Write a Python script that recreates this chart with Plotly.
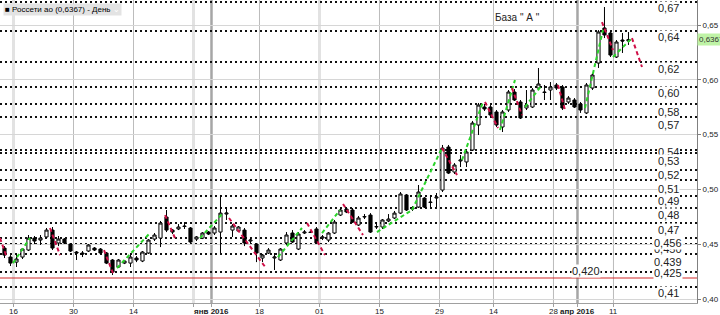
import plotly.graph_objects as go

# ---------------- data ----------------
dates = [
    "2015-11-12", "2015-11-13", "2015-11-16", "2015-11-17", "2015-11-18", "2015-11-19", "2015-11-20",
    "2015-11-23", "2015-11-24", "2015-11-25", "2015-11-26", "2015-11-27", "2015-11-30",
    "2015-12-01", "2015-12-02", "2015-12-03", "2015-12-04", "2015-12-07", "2015-12-08", "2015-12-09",
    "2015-12-10", "2015-12-11", "2015-12-14", "2015-12-15", "2015-12-16", "2015-12-17", "2015-12-18",
    "2015-12-21", "2015-12-22", "2015-12-23", "2015-12-24", "2015-12-25", "2015-12-28", "2015-12-29",
    "2015-12-30",
    "2016-01-04", "2016-01-05", "2016-01-06", "2016-01-11", "2016-01-12", "2016-01-13", "2016-01-14",
    "2016-01-15", "2016-01-18", "2016-01-19", "2016-01-20", "2016-01-21", "2016-01-22", "2016-01-25",
    "2016-01-26", "2016-01-27", "2016-01-28", "2016-01-29",
    "2016-02-01", "2016-02-02", "2016-02-03", "2016-02-04", "2016-02-05", "2016-02-08", "2016-02-09",
    "2016-02-10", "2016-02-11", "2016-02-12", "2016-02-15", "2016-02-16", "2016-02-17", "2016-02-18",
    "2016-02-19", "2016-02-20", "2016-02-22", "2016-02-24", "2016-02-25", "2016-02-26", "2016-02-29",
    "2016-03-01", "2016-03-02", "2016-03-03", "2016-03-04", "2016-03-07", "2016-03-09", "2016-03-10",
    "2016-03-11", "2016-03-14", "2016-03-15", "2016-03-16", "2016-03-17", "2016-03-18", "2016-03-21",
    "2016-03-22", "2016-03-23", "2016-03-24", "2016-03-25", "2016-03-28", "2016-03-29", "2016-03-30",
    "2016-03-31",
    "2016-04-01", "2016-04-04", "2016-04-05", "2016-04-06", "2016-04-07", "2016-04-08", "2016-04-11",
    "2016-04-12", "2016-04-13",
]

open_ = [0.4466, 0.4384, 0.4338, 0.4384, 0.4448, 0.4557, 0.4539, 0.4567, 0.4630, 0.4512,
         0.4548, 0.4503, 0.4430, 0.4421, 0.4439, 0.4466, 0.4457, 0.4421, 0.4357, 0.4293,
         0.4329, 0.4329, 0.4375, 0.4348, 0.4421, 0.4548, 0.4557, 0.4749, 0.4630, 0.4640,
         0.4667, 0.4649, 0.4548, 0.4557, 0.4612, 0.4603, 0.4612, 0.4776, 0.4630, 0.4621,
         0.4630, 0.4530, 0.4503, 0.4375, 0.4421, 0.4375, 0.4357, 0.4512, 0.4603, 0.4457,
         0.4603, 0.4612, 0.4640, 0.4557, 0.4539, 0.4603, 0.4767, 0.4822, 0.4813, 0.4676,
         0.4749, 0.4767, 0.4658, 0.4658, 0.4713, 0.4740, 0.4785, 0.4950, 0.4822, 0.4840,
         0.4922, 0.4886, 0.4922, 0.4995, 0.5387, 0.5159, 0.5260, 0.5251, 0.5360, 0.5588,
         0.5752, 0.5752, 0.5707, 0.5570, 0.5725, 0.5889, 0.5798, 0.5743, 0.5752, 0.5925,
         0.5889, 0.5907, 0.5953, 0.5935, 0.5798, 0.5816, 0.5780, 0.5698, 0.5925, 0.6153,
         0.6473, 0.6427, 0.6208, 0.6363, 0.6354]
high = [0.4484, 0.4402, 0.4412, 0.4466, 0.4585, 0.4576, 0.4585, 0.4649, 0.4658, 0.4576,
        0.4557, 0.4512, 0.4439, 0.4439, 0.4503, 0.4475, 0.4466, 0.4430, 0.4366, 0.4366,
        0.4357, 0.4412, 0.4393, 0.4439, 0.4548, 0.4603, 0.4713, 0.4813, 0.4640, 0.4685,
        0.4703, 0.4658, 0.4576, 0.4612, 0.4621, 0.4667, 0.4950, 0.4840, 0.4685, 0.4667,
        0.4649, 0.4557, 0.4512, 0.4412, 0.4466, 0.4421, 0.4466, 0.4612, 0.4630, 0.4612,
        0.4630, 0.4621, 0.4658, 0.4585, 0.4612, 0.4722, 0.4831, 0.4840, 0.4831, 0.4758,
        0.4776, 0.4785, 0.4703, 0.4731, 0.4776, 0.4804, 0.4977, 0.4959, 0.4849, 0.5041,
        0.4931, 0.4950, 0.4968, 0.5406, 0.5406, 0.5241, 0.5314, 0.5360, 0.5625, 0.5789,
        0.5780, 0.5770, 0.5725, 0.5725, 0.5907, 0.5916, 0.5816, 0.5907, 0.5925, 0.6108,
        0.5953, 0.5980, 0.5971, 0.5953, 0.5852, 0.5834, 0.5798, 0.5971, 0.6062, 0.6454,
        0.6664, 0.6445, 0.6363, 0.6427, 0.6436]
low = [0.4375, 0.4302, 0.4293, 0.4366, 0.4439, 0.4503, 0.4494, 0.4557, 0.4448, 0.4484,
       0.4503, 0.4430, 0.4357, 0.4384, 0.4430, 0.4439, 0.4412, 0.4320, 0.4220, 0.4284,
       0.4320, 0.4293, 0.4338, 0.4338, 0.4412, 0.4530, 0.4475, 0.4612, 0.4594, 0.4630,
       0.4640, 0.4512, 0.4530, 0.4548, 0.4585, 0.4585, 0.4421, 0.4722, 0.4567, 0.4612,
       0.4484, 0.4512, 0.4338, 0.4338, 0.4412, 0.4266, 0.4348, 0.4494, 0.4512, 0.4448,
       0.4594, 0.4603, 0.4503, 0.4539, 0.4521, 0.4594, 0.4758, 0.4785, 0.4694, 0.4667,
       0.4731, 0.4603, 0.4640, 0.4640, 0.4703, 0.4731, 0.4776, 0.4804, 0.4804, 0.4831,
       0.4831, 0.4840, 0.4840, 0.4977, 0.5141, 0.5141, 0.5205, 0.5205, 0.5351, 0.5497,
       0.5716, 0.5661, 0.5570, 0.5524, 0.5707, 0.5807, 0.5643, 0.5725, 0.5743, 0.5907,
       0.5816, 0.5816, 0.5907, 0.5725, 0.5780, 0.5743, 0.5698, 0.5688, 0.5907, 0.6108,
       0.6381, 0.6208, 0.6199, 0.6245, 0.6318]
close = [0.4402, 0.4329, 0.4366, 0.4457, 0.4557, 0.4530, 0.4557, 0.4630, 0.4466, 0.4548,
         0.4512, 0.4439, 0.4421, 0.4412, 0.4494, 0.4448, 0.4421, 0.4329, 0.4247, 0.4357,
         0.4348, 0.4384, 0.4357, 0.4430, 0.4539, 0.4585, 0.4694, 0.4630, 0.4612, 0.4658,
         0.4663, 0.4521, 0.4567, 0.4603, 0.4594, 0.4649, 0.4785, 0.4785, 0.4667, 0.4658,
         0.4512, 0.4539, 0.4421, 0.4402, 0.4448, 0.4384, 0.4457, 0.4585, 0.4521, 0.4594,
         0.4612, 0.4608, 0.4512, 0.4567, 0.4603, 0.4703, 0.4813, 0.4795, 0.4703, 0.4740,
         0.4753, 0.4612, 0.4662, 0.4722, 0.4731, 0.4785, 0.4959, 0.4813, 0.4831, 0.4977,
         0.4840, 0.4882, 0.4931, 0.5378, 0.5150, 0.5223, 0.5269, 0.5342, 0.5606, 0.5770,
         0.5734, 0.5679, 0.5588, 0.5707, 0.5889, 0.5816, 0.5652, 0.5770, 0.5907, 0.5962,
         0.5885, 0.5935, 0.5925, 0.5743, 0.5834, 0.5752, 0.5725, 0.5953, 0.6044, 0.6436,
         0.6409, 0.6226, 0.6345, 0.6354, 0.6367]

# zigzag indicator segments: (start bar position, start value, end bar position, end value)
zig_up = [(1.42, 0.4329, 4.25, 0.4557), (18.75, 0.4284, 24.25, 0.4603),
          (32.58, 0.4557, 36.42, 0.4785), (45.58, 0.4384, 49.58, 0.4649),
          (52.92, 0.4603, 55.92, 0.4813), (62.08, 0.4612, 67.92, 0.4813),
          (67.92, 0.4813, 72.92, 0.5378), (76.25, 0.5269, 79.75, 0.5798),
          (82.58, 0.5542, 85.08, 0.5998), (86.75, 0.5752, 89.58, 0.5953),
          (96.75, 0.5743, 99.75, 0.6454), (101.42, 0.6208, 104.58, 0.6381)]
zig_down = [(-0.75, 0.4557, 0.42, 0.4375), (7.58, 0.4649, 9.25, 0.4402),
            (16.58, 0.4448, 18.08, 0.4238), (26.75, 0.4767, 28.42, 0.4557),
            (37.42, 0.4740, 43.58, 0.4284), (50.42, 0.4694, 53.42, 0.4402),
            (56.42, 0.4868, 59.75, 0.4585), (72.92, 0.5378, 75.42, 0.5132),
            (80.08, 0.5798, 82.25, 0.5561), (84.58, 0.5925, 86.25, 0.5679),
            (92.25, 0.5953, 93.42, 0.5725), (99.58, 0.6527, 101.42, 0.6272),
            (104.58, 0.6381, 106.25, 0.6117)]

# horizontal level lines (dotted) and the red support line
levels = [0.6710, 0.6445, 0.6163, 0.5935, 0.5780, 0.5661, 0.5360, 0.5333, 0.5178,
          0.5086, 0.4940, 0.4831, 0.4694, 0.4557, 0.4503, 0.4412, 0.4247, 0.4111]
red_level = 0.4193

# level labels: (text, vertical position)
level_labels = [("0,67", 0.6655), ("0,64", 0.6391), ("0,62", 0.6099), ("0,60", 0.5880),
                ("0,58", 0.5707), ("0,57", 0.5588), ("0,54", 0.5342), ("0,53", 0.5260),
                ("0,52", 0.5132), ("0,51", 0.5004), ("0,49", 0.4895), ("0,48", 0.4767),
                ("0,47", 0.4630), ("0,450", 0.4457), ("0,456", 0.4512), ("0,439", 0.4338),
                ("0,425", 0.4238), ("0,41", 0.4056)]
red_label = ("0,420", 0.4256)

# x-axis ticks
tick_dates = ["2015-11-16", "2015-11-30", "2015-12-14", "2015-12-28", "2016-01-04",
              "2016-01-18", "2016-02-01", "2016-02-15", "2016-02-29", "2016-03-14",
              "2016-03-28", "2016-04-01", "2016-04-11"]
tick_text = ["16", "30", "14", "", "<b>янв 2016</b>", "18", "01", "15", "29", "14",
             "28", "<b>апр 2016</b>", "11"]
tick_style = ["light", "thin", "thin", "light", "month", "thin", "light", "thin", "thin",
              "thin", "thin", "month", "thin"]

y_ticks = [0.40, 0.45, 0.50, 0.55, 0.60, 0.65]
y_tick_text = ["0,40", "0,45", "0,50", "0,55", "0,60", "0,65"]
last_price = 0.6367

# ---------------- figure ----------------
xs = list(range(len(dates)))
fig = go.Figure()

for segs, col in ((zig_up, "#2ad42a"), (zig_down, "#d01048")):
    zx, zy = [], []
    for a, b, c, d in segs:
        zx += [a, c, None]
        zy += [b, d, None]
    fig.add_trace(go.Scatter(x=zx, y=zy, mode="lines",
                             line=dict(color=col, width=2, dash="4px,3px"),
                             hoverinfo="skip", showlegend=False))

fig.add_trace(go.Candlestick(
    x=xs, open=open_, high=high, low=low, close=close,
    increasing=dict(line=dict(color="#000000", width=1), fillcolor="#ffffff"),
    decreasing=dict(line=dict(color="#000000", width=1), fillcolor="#000000"),
    whiskerwidth=0, showlegend=False, hoverinfo="skip"))

shapes = []
tick_pos = [dates.index(d) - 0.5 for d in tick_dates]
for p, s in zip(tick_pos, tick_style):
    if s == "thin":
        col, w = "#bcbcbc", 1
    elif s == "light":
        col, w = "#e2e2e2", 3
    else:
        col, w = "#a6a6a6", 2.5
    shapes.append(dict(type="line", xref="x", yref="paper", x0=p, x1=p, y0=0, y1=1,
                       line=dict(color=col, width=w), layer="below"))
for lv in levels:
    shapes.append(dict(type="line", xref="paper", yref="y", x0=0, x1=1, y0=lv, y1=lv,
                       line=dict(color="#111111", width=2, dash="2px,3px"), layer="between"))
shapes.append(dict(type="line", xref="paper", yref="y", x0=0, x1=1, y0=red_level, y1=red_level,
                   line=dict(color="#d42a2a", width=1.2), layer="between"))

annotations = []
for p, t in zip(tick_pos, tick_text):
    if t:
        annotations.append(dict(xref="x", yref="paper", x=p, y=0, yanchor="top", yshift=-2,
                                text=t, showarrow=False,
                                font=dict(family="Liberation Sans, Arial", size=8, color="#222222")))
for txt, yv in level_labels:
    annotations.append(dict(xref="paper", yref="y", x=0.9584, y=yv, text=txt, showarrow=False,
                            font=dict(family="Liberation Sans, Arial", size=11, color="#222222"),
                            bgcolor="#ffffff", borderpad=0, xanchor="center", yanchor="middle"))
annotations.append(dict(xref="paper", yref="y", x=0.862, y=red_label[1], text=red_label[0],
                        showarrow=False, bgcolor="#ffffff", borderpad=0,
                        font=dict(family="Liberation Sans, Arial", size=11, color="#222222")))
annotations.append(dict(xref="paper", yref="paper", x=0.004, y=0.99, xanchor="left", yanchor="top",
                        text="■ Россети ао (0,6367) - День <span style='color:#ffffff'>⌄</span>",
                        showarrow=False, bgcolor="#e3e3e3", borderpad=1,
                        font=dict(family="Liberation Sans, Arial", size=8, color="#000000")))
annotations.append(dict(xref="paper", yref="paper", x=0.7073, y=0.9406, xanchor="left",
                        yanchor="middle", text='База " А "', showarrow=False,
                        font=dict(family="Liberation Sans, Arial", size=10, color="#222222")))
annotations.append(dict(xref="paper", yref="y", x=1.0, y=last_price, xanchor="left",
                        text="0,6367", showarrow=False, bgcolor="#bff3a6", borderpad=1,
                        font=dict(family="Liberation Sans, Arial", size=8, color="#333333")))

fig.update_layout(
    width=720, height=315,
    margin=dict(l=0, r=23, t=0, b=12, autoexpand=False),
    paper_bgcolor="#ffffff", plot_bgcolor="#ffffff",
    showlegend=False, boxgap=0.25,
    shapes=shapes, annotations=annotations,
    xaxis=dict(range=[-0.75, 115.42], showgrid=False, zeroline=False, automargin=False,
               tickvals=tick_pos, showticklabels=False, ticks="outside", ticklen=3,
               tickcolor="#a0a0a0", showline=True, linecolor="#a0a0a0", linewidth=1,
               rangeslider=dict(visible=False), fixedrange=True),
    yaxis=dict(range=[0.3965, 0.6728], side="right", tickvals=y_ticks, ticktext=y_tick_text,
               showgrid=True, gridcolor="#d6d6d6", gridwidth=1, zeroline=False, automargin=False,
               ticks="outside", ticklen=3, tickcolor="#808080",
               showline=True, linecolor="#808080", linewidth=1,
               tickfont=dict(family="Liberation Sans, Arial", size=8, color="#222222"),
               fixedrange=True),
)

fig.write_html("out.html")
